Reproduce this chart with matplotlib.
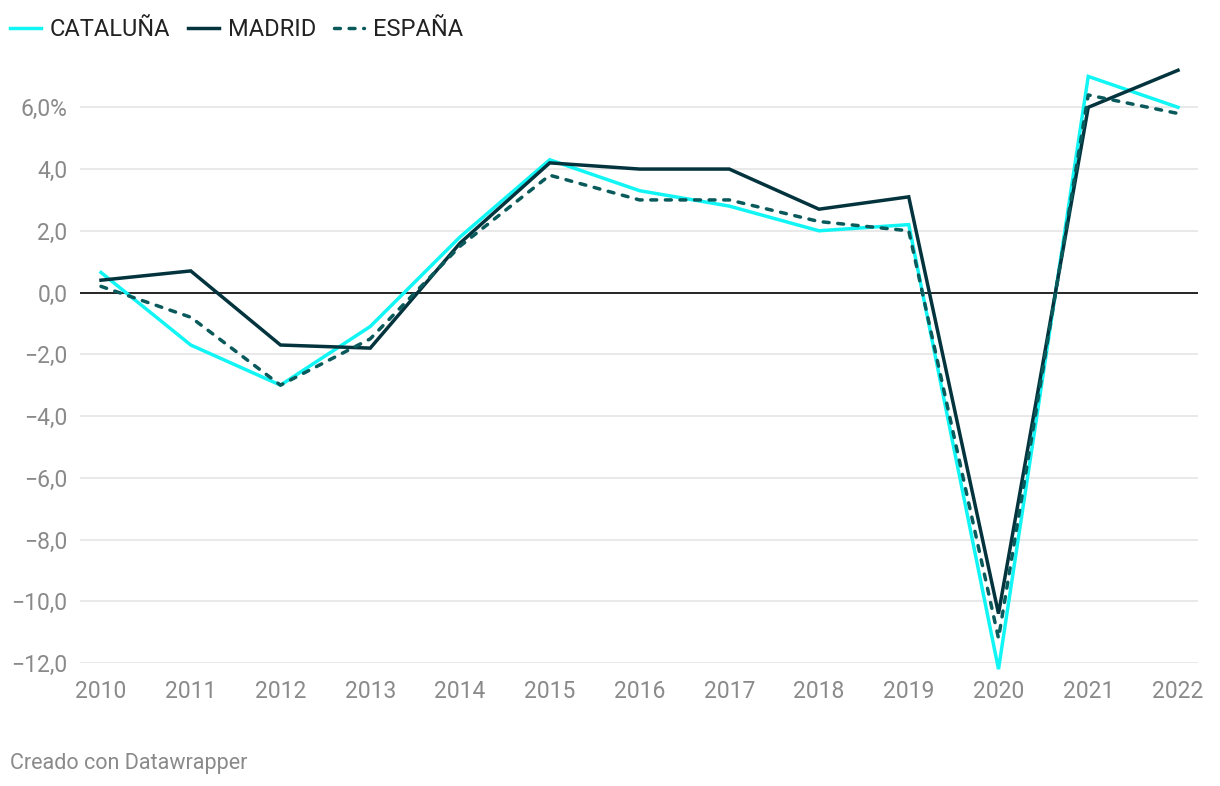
import numpy as np
import matplotlib
matplotlib.use("Agg")
import matplotlib.pyplot as plt

plt.rcParams['font.family'] = ['Roboto', 'DejaVu Sans']

# ---------- DATA ----------
years = [2010, 2011, 2012, 2013, 2014, 2015, 2016, 2017, 2018, 2019, 2020, 2021, 2022]
cataluna = [0.65, -1.7, -3.0, -1.1, 1.8, 4.3, 3.3, 2.8, 2.0, 2.2, -12.2, 7.0, 6.0]
madrid = [0.4, 0.7, -1.7, -1.8, 1.6, 4.2, 4.0, 4.0, 2.7, 3.1, -10.4, 6.0, 7.2]
espana = [0.2, -0.8, -3.0, -1.5, 1.5, 3.8, 3.0, 3.0, 2.3, 2.0, -11.2, 6.4, 5.8]
yticks = [6, 4, 2, 0, -2, -4, -6, -8, -10, -12]
ytick_labels = ["6,0%", "4,0", "2,0", "0,0", "\u22122,0", "\u22124,0", "\u22126,0",
                "\u22128,0", "\u221210,0", "\u221212,0"]
# --------------------------

C_CAT = "#12f5f5"
C_MAD = "#03343e"
C_ESP = "#0a5a5c"
GRID = "#e3e3e3"
TICK = "#8a8a8a"

fig = plt.figure(figsize=(12.2, 7.86), dpi=100)
ax = fig.add_axes([80 / 1220, 1 - 663 / 786, (1198 - 80) / 1220, (663 - 61) / 786])

x0 = 2010 - 21 / 89.75
x1 = 2022 + 20 / 89.75
ax.set_xlim(x0, x1)
ax.set_ylim(-12, 7.5)

for t in yticks:
    if t == 0:
        continue
    ax.axhline(t, color=GRID, lw=1.1, zorder=1)
ax.axhline(0, color="black", lw=1.2, zorder=2)

ax.plot(years, cataluna, color=C_CAT, lw=2.5, label="CATALUÑA", zorder=3,
        clip_on=False, solid_joinstyle="miter")
ax.plot(years, madrid, color=C_MAD, lw=2.5, label="MADRID", zorder=4,
        clip_on=False, solid_joinstyle="miter")
ax.plot(years, espana, color=C_ESP, lw=2.5, label="ESPAÑA", zorder=5,
        clip_on=False, dashes=(1.7, 2.5), dash_capstyle="round")

ax.set_yticks(yticks)
ax.set_yticklabels(ytick_labels)
ax.set_xticks(years)
ax.set_xticklabels([str(y) for y in years])
ax.tick_params(axis="y", length=0, pad=9, labelsize=16.5, labelcolor=TICK)
ax.tick_params(axis="x", length=0, pad=12, labelsize=16.5, labelcolor=TICK)
for s in ax.spines.values():
    s.set_visible(False)

fig.legend(loc="upper left", bbox_to_anchor=(10 / 1220, 1 - 18 / 786), ncol=3,
           frameon=False, fontsize=17, handlelength=1.3, handletextpad=0.38,
           columnspacing=0.75, borderpad=0, borderaxespad=0, labelcolor="#222222")

fig.text(10 / 1220, 1 - 763 / 786, "Creado con Datawrapper", fontsize=15.5,
         color="#8a8a8a", va="center", ha="left")

fig.savefig("out.png", dpi=100)
